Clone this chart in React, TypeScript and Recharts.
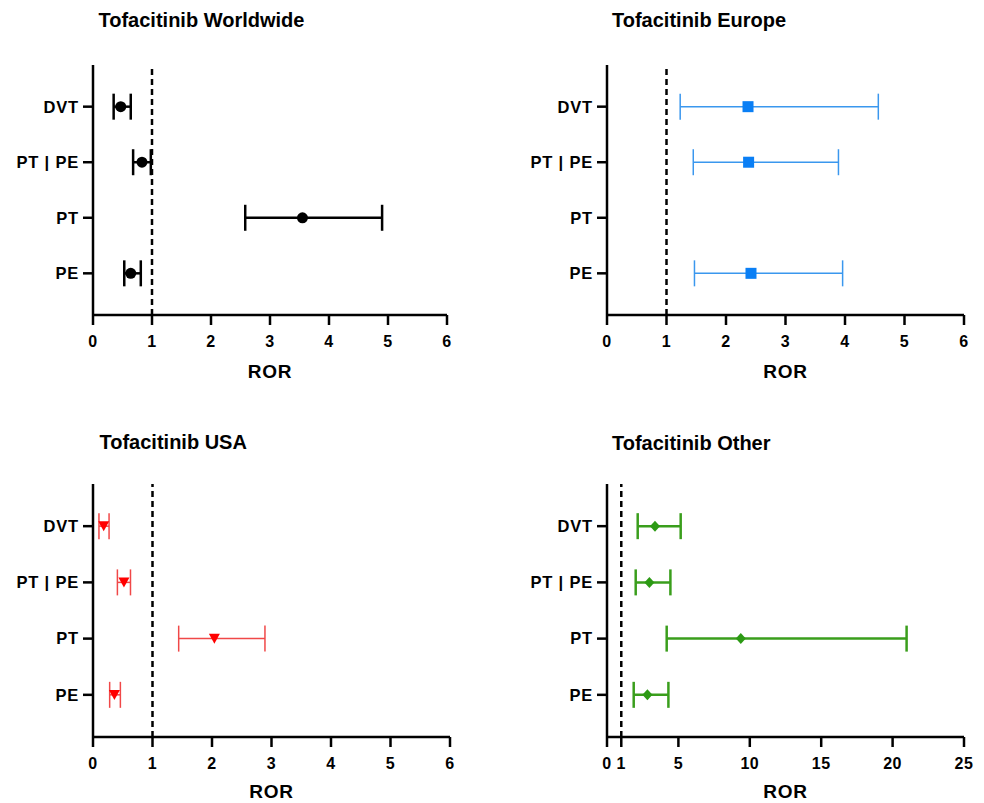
import React from 'react';
import { ScatterChart, Scatter, XAxis, YAxis, ErrorBar, ReferenceLine, Label } from 'recharts';

// ---------- data ----------
const categories = ['DVT', 'PT | PE', 'PT', 'PE'];

const worldwideROR = [0.47, 0.83, 3.55, 0.64];
const worldwideLow = [0.35, 0.68, 2.58, 0.53];
const worldwideHigh = [0.64, 0.98, 4.9, 0.81];

const europeROR: (number | null)[] = [2.37, 2.38, null, 2.42];
const europeLow: (number | null)[] = [1.23, 1.45, null, 1.47];
const europeHigh: (number | null)[] = [4.56, 3.89, null, 3.96];

const usaROR = [0.18, 0.52, 2.04, 0.36];
const usaLow = [0.1, 0.41, 1.44, 0.28];
const usaHigh = [0.27, 0.63, 2.89, 0.46];

const otherROR = [3.36, 2.97, 9.37, 2.83];
const otherLow = [2.15, 2.01, 4.18, 1.87];
const otherHigh = [5.16, 4.44, 20.98, 4.3];

const ticksSix = [0, 1, 2, 3, 4, 5, 6];
const ticksOther = [0, 1, 5, 10, 15, 20, 25];
const categoryPositions = [1, 2, 3, 4];

const titles = ['Tofacitinib Worldwide', 'Tofacitinib Europe', 'Tofacitinib USA', 'Tofacitinib Other'];

function buildRows(ror: (number | null)[], low: (number | null)[], high: (number | null)[]) {
  const rows: { x: number; y: number; err: [number, number] }[] = [];
  categories.forEach((_, i) => {
    const v = ror[i];
    const l = low[i];
    const h = high[i];
    if (v == null || l == null || h == null) return;
    rows.push({ x: v, y: categoryPositions[i], err: [v - l, h - v] });
  });
  return rows;
}

const FONT = '"Liberation Sans", Arial, Helvetica, sans-serif';

const CircleShape = (p: any) => <circle cx={p.cx} cy={p.cy} r={5.5} fill="#000000" />;
const SquareShape = (p: any) => (
  <rect x={p.cx - 5.5} y={p.cy - 5.5} width={11} height={11} fill="#0a7ff5" />
);
const TriangleShape = (p: any) => (
  <path
    d={`M${p.cx - 5.5},${p.cy - 4.8}L${p.cx + 5.5},${p.cy - 4.8}L${p.cx},${p.cy + 5.2}Z`}
    fill="#ff0000"
  />
);
const DiamondShape = (p: any) => (
  <path
    d={`M${p.cx},${p.cy - 5.5}L${p.cx + 5},${p.cy}L${p.cx},${p.cy + 5.5}L${p.cx - 5},${p.cy}Z`}
    fill="#2c9a14"
  />
);

type Panel = {
  rows: { x: number; y: number; err: [number, number] }[];
  left: number;
  top: number;
  width: number;
  height: number;
  margin: { top: number; right: number; bottom: number; left: number };
  yWidth: number;
  xHeight: number;
  labelOffset: number;
  domainMax: number;
  xTicks: number[];
  errColor: string;
  errWidth: number;
  shape: any;
};

const panels: Panel[] = [
  {
    rows: buildRows(worldwideROR, worldwideLow, worldwideHigh),
    left: 0, top: 0, width: 492, height: 400,
    margin: { top: 65, right: 45, bottom: 15, left: 0 },
    yWidth: 93, xHeight: 70, labelOffset: 7,
    domainMax: 6, xTicks: ticksSix,
    errColor: '#000000', errWidth: 2.5, shape: CircleShape,
  },
  {
    rows: buildRows(europeROR, europeLow, europeHigh),
    left: 492, top: 0, width: 492, height: 400,
    margin: { top: 65, right: 20, bottom: 15, left: 0 },
    yWidth: 115, xHeight: 70, labelOffset: 7,
    domainMax: 6, xTicks: ticksSix,
    errColor: '#3a97ee', errWidth: 1.5, shape: SquareShape,
  },
  {
    rows: buildRows(usaROR, usaLow, usaHigh),
    left: 0, top: 400, width: 492, height: 403,
    margin: { top: 84, right: 42, bottom: 0, left: 0 },
    yWidth: 93, xHeight: 66, labelOffset: 5,
    domainMax: 6, xTicks: ticksSix,
    errColor: '#f04848', errWidth: 1.5, shape: TriangleShape,
  },
  {
    rows: buildRows(otherROR, otherLow, otherHigh),
    left: 492, top: 400, width: 492, height: 403,
    margin: { top: 84, right: 20, bottom: 0, left: 0 },
    yWidth: 115, xHeight: 66, labelOffset: 5,
    domainMax: 25, xTicks: ticksOther,
    errColor: '#3a9e1c', errWidth: 2.5, shape: DiamondShape,
  },
];

const titlePos = [
  { x: 98.5, y: 27 },
  { x: 612, y: 27 },
  { x: 99.5, y: 449 },
  { x: 612, y: 449.5 },
];

const axisStroke = { stroke: '#000000', strokeWidth: 2.5 };

function PanelChart({ p }: { p: Panel }) {
  return (
    <div style={{ position: 'absolute', left: p.left, top: p.top, width: p.width, height: p.height }}>
      <ScatterChart width={p.width} height={p.height} margin={p.margin}>
        <XAxis
          type="number"
          dataKey="x"
          domain={[0, p.domainMax]}
          ticks={p.xTicks}
          interval={0}
          height={p.xHeight}
          tickSize={10}
          tickMargin={11}
          axisLine={axisStroke}
          tickLine={axisStroke}
          tick={{ fill: '#000000', fontSize: 16, fontWeight: 700, fontFamily: FONT, letterSpacing: 0.5 }}
          allowDataOverflow
        >
          <Label
            value="ROR"
            position="insideBottom"
            offset={p.labelOffset}
            fill="#000000"
            fontSize={19}
            fontWeight={700}
            fontFamily={FONT}
            style={{ letterSpacing: 0.8 }}
          />
        </XAxis>
        <YAxis
          type="number"
          dataKey="y"
          domain={[0.25, 4.75]}
          reversed
          ticks={categoryPositions}
          interval={0}
          width={p.yWidth}
          tickSize={10}
          tickMargin={4}
          tickFormatter={(v: number) => categories[v - 1] ?? ''}
          axisLine={axisStroke}
          tickLine={axisStroke}
          tick={{ fill: '#000000', fontSize: 16.5, fontWeight: 700, fontFamily: FONT, letterSpacing: 0.8 }}
          allowDataOverflow
        />
        <ReferenceLine x={1} stroke="#000000" strokeWidth={2.5} strokeDasharray="6 4" />
        <Scatter data={p.rows} shape={p.shape} isAnimationActive={false}>
          <ErrorBar
            dataKey="err"
            direction="x"
            width={13}
            stroke={p.errColor}
            strokeWidth={p.errWidth}
            isAnimationActive={false}
          />
        </Scatter>
      </ScatterChart>
    </div>
  );
}

export default function App() {
  return (
    <div style={{ position: 'absolute', left: 0, top: 0, width: 984, height: 803, background: '#ffffff' }}>
      {panels.map((p, i) => (
        <PanelChart key={i} p={p} />
      ))}
      <svg
        width={984}
        height={803}
        style={{ position: 'absolute', left: 0, top: 0, pointerEvents: 'none' }}
      >
        {titles.map((t, i) => (
          <text
            key={t}
            x={titlePos[i].x}
            y={titlePos[i].y}
            fontFamily={FONT}
            fontSize={20}
            fontWeight={700}
            fill="#000000"
          >
            {t}
          </text>
        ))}
      </svg>
    </div>
  );
}
